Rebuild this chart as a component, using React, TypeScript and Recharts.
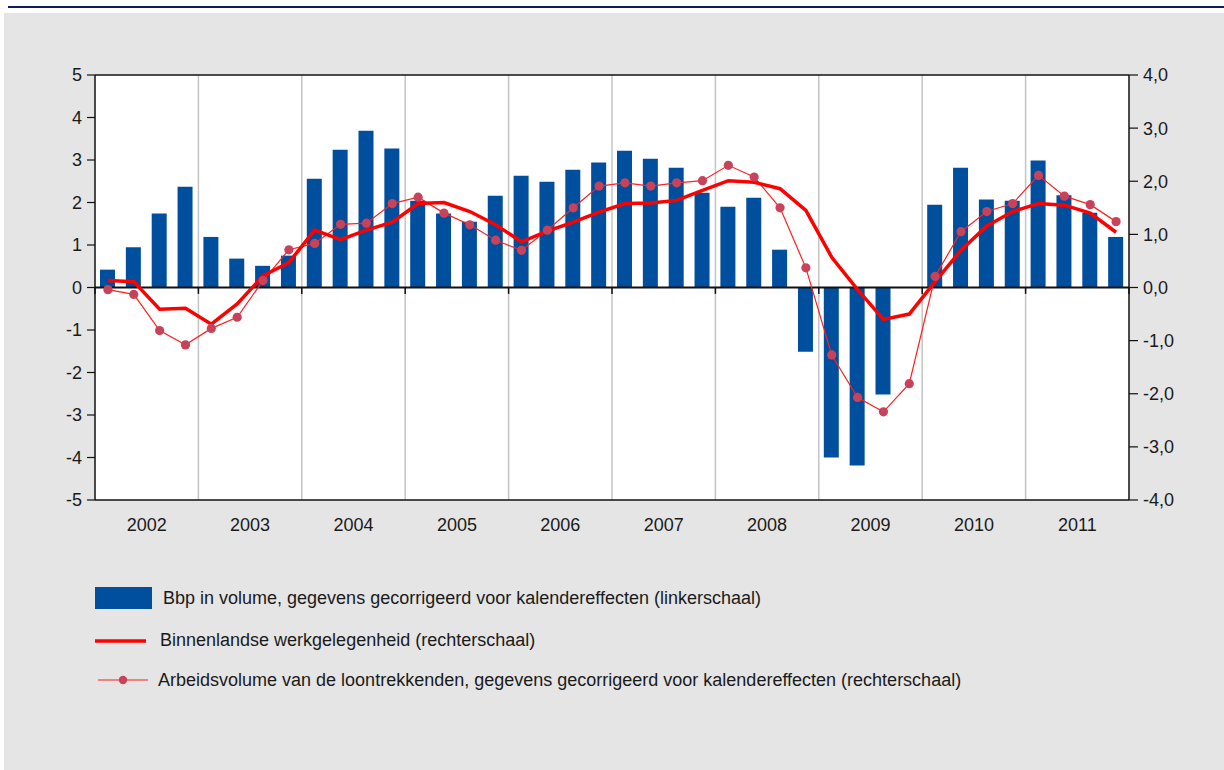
import React from "react";
import {
  ComposedChart,
  Bar,
  Line,
  XAxis,
  YAxis,
  CartesianGrid,
  ReferenceLine,
} from "recharts";

const years = ["2002", "2003", "2004", "2005", "2006", "2007", "2008", "2009", "2010", "2011"];

// Bbp in volume (left axis)
const bbp = [
  0.42, 0.95, 1.74, 2.37,
  1.19, 0.68, 0.51, 0.75,
  2.56, 3.24, 3.69, 3.27,
  2.04, 1.74, 1.55, 2.16,
  2.63, 2.49, 2.77, 2.94,
  3.22, 3.03, 2.82, 2.23,
  1.9, 2.11, 0.89, -1.51,
  -4.0, -4.19, -2.52, 0.0,
  1.95, 2.82, 2.07, 2.04,
  2.99, 2.17, 1.76, 1.19,
];

// Binnenlandse werkgelegenheid (right axis)
const werkgelegenheid = [
  0.13, 0.11, -0.41, -0.39,
  -0.69, -0.31, 0.22, 0.47,
  1.08, 0.9, 1.08, 1.23,
  1.58, 1.6, 1.43, 1.18,
  0.86, 1.06, 1.23, 1.42,
  1.58, 1.59, 1.64, 1.83,
  2.01, 1.98, 1.86, 1.45,
  0.57, -0.04, -0.6, -0.5,
  0.11, 0.7, 1.16, 1.43,
  1.58, 1.55, 1.4, 1.04,
];

// Arbeidsvolume van de loontrekkenden (right axis)
const arbeidsvolume = [
  -0.04, -0.13, -0.81, -1.08,
  -0.77, -0.56, 0.13, 0.71,
  0.83, 1.19, 1.21, 1.58,
  1.7, 1.4, 1.18, 0.89,
  0.7, 1.08, 1.5, 1.91,
  1.97, 1.91, 1.97, 2.01,
  2.3, 2.08, 1.5, 0.37,
  -1.27, -2.07, -2.34, -1.81,
  0.21, 1.05, 1.43, 1.58,
  2.11, 1.72, 1.56, 1.24,
];

const leftTicks = [-5, -4, -3, -2, -1, 0, 1, 2, 3, 4, 5];
const rightTicks = [-4, -3, -2, -1, 0, 1, 2, 3, 4];
const yearBoundaries = [0, 4, 8, 12, 16, 20, 24, 28, 32, 36, 40];
const yearCenters = [2, 6, 10, 14, 18, 22, 26, 30, 34, 38];

const quarters = years.flatMap((y) => ["K1", "K2", "K3", "K4"].map((k) => `${y}${k}`));

const data = quarters.map((q, i) => ({
  q,
  t: i + 0.5,
  bbp: bbp[i],
  werk: werkgelegenheid[i],
  arb: arbeidsvolume[i],
}));

const FONT = '"Liberation Sans", Arial, Helvetica, sans-serif';
const FS = 18;
const BLUE = "#004f9f";
const RED = "#ff0000";
const THIN_RED = "#ff1f1f";
const DOT = "#c8435a";

const legendItems = [
  { kind: "bar", label: "Bbp in volume, gegevens gecorrigeerd voor kalendereffecten (linkerschaal)" },
  { kind: "thick", label: "Binnenlandse werkgelegenheid (rechterschaal)" },
  { kind: "dot", label: "Arbeidsvolume van de loontrekkenden, gegevens gecorrigeerd voor kalendereffecten (rechterschaal)" },
];

export default function App() {
  return (
    <div
      style={{
        position: "absolute",
        left: 0,
        top: 0,
        width: 1224,
        height: 770,
        background: "#ffffff",
        fontFamily: FONT,
        overflow: "hidden",
      }}
    >
      <div style={{ position: "absolute", left: 8, top: 6, width: 1216, height: 2, background: "#101c5a" }} />
      <div style={{ position: "absolute", left: 4, top: 13, width: 1220, height: 757, background: "#e5e5e5" }} />
      <div style={{ position: "absolute", left: 0, top: 0 }}>
        <ComposedChart
          width={1224}
          height={770}
          data={data}
          margin={{ top: 75, right: 35, bottom: 240, left: 35 }}
        >
          <CartesianGrid fill="#ffffff" horizontal={false} vertical={false} stroke="none" xAxisId="t" yAxisId="left" />
          <XAxis xAxisId="q" dataKey="q" hide height={0} />
          <XAxis
            xAxisId="t"
            dataKey="t"
            type="number"
            domain={[0, 40]}
            allowDataOverflow
            ticks={yearCenters}
            tickFormatter={(v: number) => years[Math.round((v - 2) / 4)]}
            tickLine={false}
            tickSize={6}
            tickMargin={12}
            axisLine={{ stroke: "#111", strokeWidth: 1.5 }}
            tick={{ fill: "#1a1a1a", fontSize: FS, fontFamily: FONT }}
            interval={0}
            height={30}
          />
          <YAxis
            yAxisId="left"
            orientation="left"
            domain={[-5, 5]}
            ticks={leftTicks}
            interval={0}
            width={60}
            tickSize={8}
            tickMargin={5}
            axisLine={{ stroke: "#111", strokeWidth: 1.5 }}
            tickLine={{ stroke: "#111", strokeWidth: 1.2 }}
            tick={{ fill: "#1a1a1a", fontSize: FS, fontFamily: FONT }}
          />
          <YAxis
            yAxisId="right"
            orientation="right"
            domain={[-4, 4]}
            ticks={rightTicks}
            interval={0}
            width={60}
            tickSize={9}
            tickMargin={5}
            tickFormatter={(v: number) => v.toFixed(1).replace(".", ",")}
            axisLine={{ stroke: "#111", strokeWidth: 1.5 }}
            tickLine={{ stroke: "#111", strokeWidth: 1.2 }}
            tick={{ fill: "#1a1a1a", fontSize: FS, fontFamily: FONT, textAnchor: "start" }}
          />
          {yearBoundaries.slice(1, -1).map((b) => (
            <ReferenceLine key={`g${b}`} xAxisId="t" yAxisId="left" x={b} stroke="#c4c4c4" strokeWidth={1.5} />
          ))}
          <Bar
            xAxisId="q"
            yAxisId="left"
            dataKey="bbp"
            fill={BLUE}
            barSize={15}
            isAnimationActive={false}
          />
          <ReferenceLine xAxisId="t" yAxisId="left" y={0} stroke="#111" strokeWidth={2.2} />
          <ReferenceLine xAxisId="t" yAxisId="left" y={5} stroke="#111" strokeWidth={1.5} />
          {yearBoundaries.map((b) => (
            <ReferenceLine
              key={`tk${b}`}
              xAxisId="t"
              yAxisId="left"
              segment={[
                { x: b, y: 0 },
                { x: b, y: -0.15 },
              ]}
              stroke="#111"
              strokeWidth={1.5}
            />
          ))}
          <Line
            xAxisId="q"
            yAxisId="right"
            dataKey="arb"
            type="linear"
            stroke={THIN_RED}
            strokeWidth={1.2}
            dot={{ r: 4.6, fill: DOT, stroke: "none" }}
            activeDot={false}
            isAnimationActive={false}
          />
          <Line
            xAxisId="q"
            yAxisId="right"
            dataKey="werk"
            type="linear"
            stroke={RED}
            strokeWidth={3.5}
            dot={false}
            activeDot={false}
            isAnimationActive={false}
          />
        </ComposedChart>
      </div>
      {legendItems.map((it, i) => {
        const cy = [598, 640, 680][i];
        const textLeft = [163, 160, 158][i];
        return (
          <div key={it.label}>
            <svg style={{ position: "absolute", left: 90, top: cy - 15 }} width={70} height={30}>
              {it.kind === "bar" && <rect x={5} y={4} width={57} height={22} fill={BLUE} />}
              {it.kind === "thick" && <line x1={5} x2={56} y1={16} y2={16} stroke={RED} strokeWidth={3.5} />}
              {it.kind === "dot" && (
                <g>
                  <line x1={8} x2={58} y1={15} y2={15} stroke={THIN_RED} strokeWidth={1.2} />
                  <circle cx={33} cy={15} r={4.2} fill={DOT} />
                </g>
              )}
            </svg>
            <div
              style={{
                position: "absolute",
                left: textLeft,
                top: cy - 11,
                height: 22,
                lineHeight: "22px",
                fontSize: FS,
                color: "#1a1a1a",
                whiteSpace: "nowrap",
              }}
            >
              {it.label}
            </div>
          </div>
        );
      })}
    </div>
  );
}
